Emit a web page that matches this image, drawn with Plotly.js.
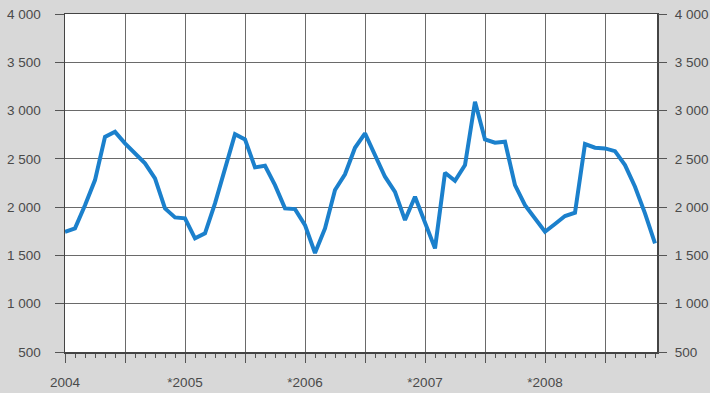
<!DOCTYPE html>
<html>
<head>
<meta charset="utf-8">
<script src="https://cdn.plot.ly/plotly-3.0.1.min.js"></script>
<style>
html,body{margin:0;padding:0;background:#d8d8d8;}
#chart{width:710px;height:393px;}
</style>
</head>
<body>
<div id="chart"></div>
<script>
// Monthly values, Jan 2004 .. Dec 2008 (month index 0..59)
const months = Array.from({length: 60}, (_, i) => i);
const values = [
  1745, 1780, 2020, 2280, 2728, 2780, 2660, 2556, 2453, 2298, 1987, 1894,
  1884, 1677, 1729, 2039, 2384, 2756, 2701, 2412, 2428, 2228, 1987, 1980,
  1814, 1525, 1780, 2177, 2340, 2615, 2763, 2539, 2315, 2159, 1866, 2108,
  1832, 1573, 2356, 2273, 2435, 3091, 2701, 2667, 2677, 2228, 2021, 1884,
  1745, 1825, 1908, 1942, 2653, 2615, 2608, 2580, 2435, 2211, 1935, 1625
];
const xTickVals = [0, 6, 12, 18, 24, 30, 36, 42, 48, 54];
const xTickText = ['2004', '', '*2005', '', '*2006', '', '*2007', '', '*2008', ''];
const yTickVals = [500, 1000, 1500, 2000, 2500, 3000, 3500, 4000];

const fontFam = '"Liberation Sans", Arial, sans-serif';
const tickFont = {family: fontFam, size: 13.5, color: '#4a4a4a'};

const traces = [
  {x: months, y: values, type: 'scatter', mode: 'lines',
   line: {color: '#1b80cc', width: 4}, hoverinfo: 'skip', showlegend: false},
  {x: months, y: values, type: 'scatter', mode: 'lines', yaxis: 'y2',
   line: {color: 'rgba(0,0,0,0)', width: 0}, hoverinfo: 'skip', showlegend: false}
];

const yCommon = {
  range: [500, 4000], tickmode: 'array', tickvals: yTickVals,
  tickformat: ',d', ticks: 'outside', ticklen: 9, tickcolor: '#555', tickwidth: 1,
  showgrid: true, gridcolor: '#6a6a6a', gridwidth: 1, zeroline: false,
  tickfont: tickFont, fixedrange: true
};

const layout = {
  width: 710, height: 393,
  margin: {l: 65, r: 53, t: 14, b: 41, pad: 0},
  paper_bgcolor: '#d8d8d8', plot_bgcolor: '#ffffff',
  separators: ', ',
  showlegend: false,
  xaxis: {
    range: [0, 59.2], tickmode: 'array', tickvals: xTickVals, ticktext: xTickText,
    ticks: 'outside', ticklen: 9, tickcolor: '#555', tickwidth: 1,
    showgrid: true, gridcolor: '#6a6a6a', gridwidth: 1, zeroline: false,
    showline: true, linecolor: '#444', linewidth: 1.5, mirror: true,
    tickfont: tickFont, ticklabelstandoff: 8,
    minor: {tickmode: 'linear', tick0: 0, dtick: 1, ticks: 'outside', ticklen: 4, tickcolor: '#555', showgrid: false}
  },
  yaxis: Object.assign({}, yCommon, {side: 'left', ticklabelstandoff: 11, showline: true, linecolor: '#444', linewidth: 1.5, mirror: true}),
  yaxis2: Object.assign({}, yCommon, {side: 'right', ticklabelstandoff: 5, overlaying: 'y', showgrid: false, showline: false})
};

Plotly.newPlot('chart', traces, layout, {staticPlot: true, displayModeBar: false});
</script>
</body>
</html>
